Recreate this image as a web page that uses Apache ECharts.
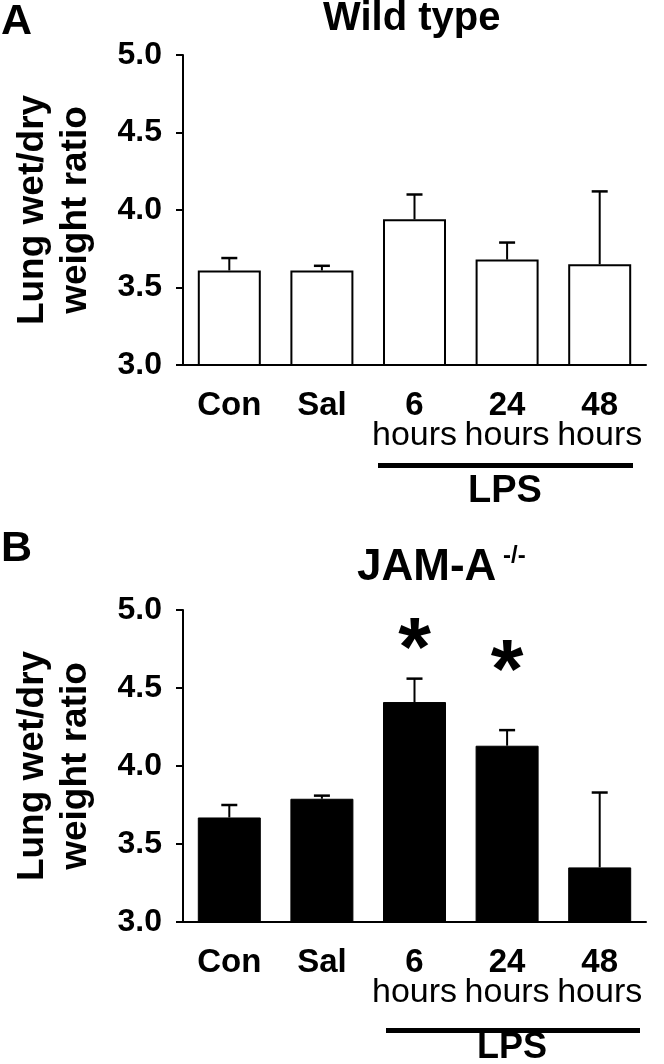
<!DOCTYPE html>
<html>
<head>
<meta charset="utf-8">
<script src="https://cdn.jsdelivr.net/npm/echarts@6/dist/echarts.min.js"></script>
<style>
html, body { margin: 0; padding: 0; background: #fff; }
#main { width: 664px; height: 1064px; }
</style>
</head>
<body>
<div id="main"></div>
<script>
// groups on the x axis
var categories = ['Con', 'Sal', '6', '24', '48'];
var catUnits = ['', '', 'hours', 'hours', 'hours'];
// panel A, wild type
var wtMean = [3.61, 3.61, 3.94, 3.68, 3.65];
var wtErr = [0.08, 0.03, 0.16, 0.11, 0.47];
// panel B, JAM-A -/-
var koMean = [3.67, 3.79, 4.41, 4.13, 3.35];
var koErr = [0.08, 0.02, 0.15, 0.10, 0.48];
var koStar = [null, null, 4.84, 4.70, null];

var FONT = '"Liberation Sans", Arial, sans-serif';

function errItem(params, api) {
    var x = api.value(0), m = api.value(1), e = api.value(2);
    var p0 = api.coord([x, m]);
    var p1 = api.coord([x, m + e]);
    return {
        type: 'group',
        children: [
            { type: 'line', shape: { x1: p0[0], y1: p0[1], x2: p1[0], y2: p1[1] }, style: { stroke: '#000', lineWidth: 2 } },
            { type: 'line', shape: { x1: p1[0] - 8, y1: p1[1], x2: p1[0] + 8, y2: p1[1] }, style: { stroke: '#000', lineWidth: 2.5 } }
        ]
    };
}

// significance mark drawn as text at its value
function starItem(params, api) {
    var p = api.coord([api.value(0), api.value(1)]);
    return {
        type: 'text',
        x: p[0], y: p[1] + 18,
        style: { text: '*', font: 'bold 84px ' + FONT, fill: '#000', textAlign: 'center', textVerticalAlign: 'middle' }
    };
}

function xAxisOf(idx) {
    return {
        type: 'category',
        gridIndex: idx,
        data: categories,
        axisLine: { lineStyle: { color: '#000', width: 2 } },
        axisTick: { length: 7, lineStyle: { color: '#000', width: 2 } },
        axisLabel: {
            interval: 0,
            margin: 24,
            color: '#000',
            fontFamily: FONT,
            formatter: function (v, i) {
                return catUnits[i] ? '{b|' + v + '}\n{u|' + catUnits[i] + '}' : '{b|' + v + '}';
            },
            rich: {
                b: { fontSize: 33, fontWeight: 'bold', lineHeight: 33, fontFamily: FONT, color: '#000' },
                u: { fontSize: 34, fontWeight: 'normal', lineHeight: 27, fontFamily: FONT, color: '#000' }
            }
        }
    };
}

function yAxisOf(idx) {
    return {
        type: 'value',
        gridIndex: idx,
        min: 3,
        max: 5,
        interval: 0.5,
        name: 'Lung wet/dry\nweight ratio',
        nameLocation: 'middle',
        nameRotate: 90,
        nameGap: 86,
        nameTextStyle: { fontSize: 37, fontWeight: 'bold', lineHeight: 43, color: '#000', fontFamily: FONT },
        splitLine: { show: false },
        axisLine: { show: true, lineStyle: { color: '#000', width: 2 } },
        axisTick: { show: true, length: 7, lineStyle: { color: '#000', width: 2 } },
        axisLabel: {
            margin: 21,
            fontSize: 32,
            fontWeight: 'bold',
            color: '#000',
            fontFamily: FONT,
            formatter: function (v) { return v.toFixed(1); }
        }
    };
}

var chart = echarts.init(document.getElementById('main'), null, { renderer: 'canvas' });

var option = {
    animation: false,
    backgroundColor: '#fff',
    grid: [
        { left: 183, top: 55, width: 463, height: 310 },
        { left: 183, top: 610, width: 463, height: 312 }
    ],
    xAxis: [xAxisOf(0), xAxisOf(1)],
    yAxis: [yAxisOf(0), yAxisOf(1)],
    series: [
        {
            type: 'bar', xAxisIndex: 0, yAxisIndex: 0, barWidth: 63,
            itemStyle: { color: '#fff', borderColor: '#000', borderWidth: 2 },
            data: wtMean
        },
        {
            type: 'custom', xAxisIndex: 0, yAxisIndex: 0, renderItem: errItem,
            data: wtMean.map(function (m, i) { return [i, m, wtErr[i]]; }), z: 3
        },
        {
            type: 'bar', xAxisIndex: 1, yAxisIndex: 1, barWidth: 63,
            itemStyle: { color: '#000', borderColor: '#000', borderWidth: 1 },
            data: koMean
        },
        {
            type: 'custom', xAxisIndex: 1, yAxisIndex: 1, renderItem: errItem,
            data: koMean.map(function (m, i) { return [i, m, koErr[i]]; }), z: 3
        },
        {
            type: 'custom', xAxisIndex: 1, yAxisIndex: 1, renderItem: starItem,
            data: koStar.map(function (v, i) { return v == null ? null : [i, v]; }).filter(function (d) { return d; })
        }
    ],
    graphic: [
        { type: 'text', x: 1, y: 22, style: { text: 'A', font: 'bold 43px ' + FONT, fill: '#000', textVerticalAlign: 'middle' } },
        { type: 'text', x: 323, y: 19, style: { text: 'Wild type', font: 'bold 40px ' + FONT, fill: '#000', textVerticalAlign: 'middle' } },
        { type: 'line', shape: { x1: 378, y1: 465.5, x2: 633, y2: 465.5 }, style: { stroke: '#000', lineWidth: 5 } },
        { type: 'text', x: 505, y: 492, style: { text: 'LPS', font: 'bold 38px ' + FONT, fill: '#000', textAlign: 'center', textVerticalAlign: 'middle' } },
        { type: 'text', x: 1, y: 549, style: { text: 'B', font: 'bold 43px ' + FONT, fill: '#000', textVerticalAlign: 'middle' } },
        { type: 'text', x: 357, y: 568, style: { text: 'JAM-A', font: 'bold 44px ' + FONT, fill: '#000', textVerticalAlign: 'middle' } },
        { type: 'text', x: 503, y: 556, style: { text: '-/-', font: 'bold 24px ' + FONT, fill: '#000', textVerticalAlign: 'middle' } },
        { type: 'line', shape: { x1: 386, y1: 1030.5, x2: 640, y2: 1030.5 }, style: { stroke: '#000', lineWidth: 5 } },
        { type: 'text', x: 512, y: 1048, style: { text: 'LPS', font: 'bold 36px ' + FONT, fill: '#000', textAlign: 'center', textVerticalAlign: 'middle' } }
    ]
};

chart.setOption(option);
</script>
</body>
</html>
